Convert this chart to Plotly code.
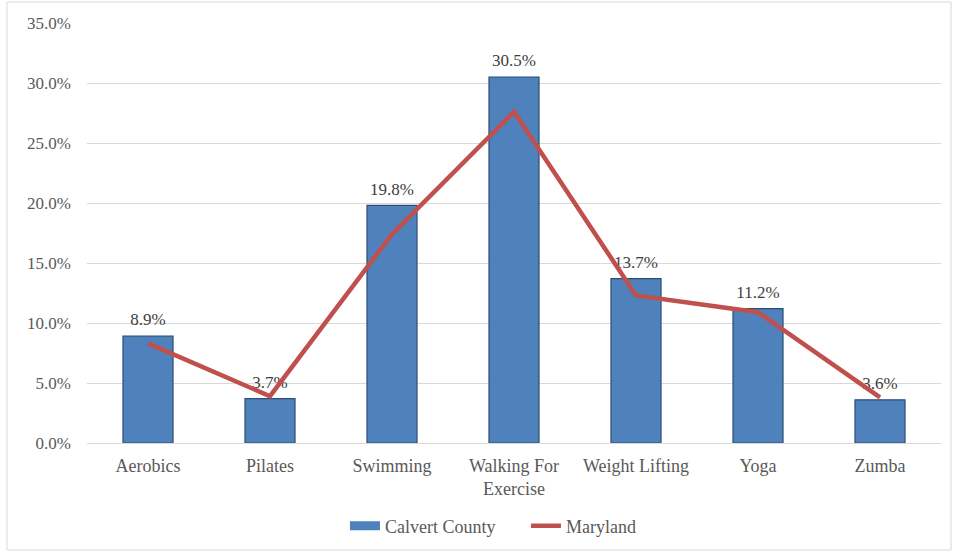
import plotly.graph_objects as go

# Share of residents taking part in each activity
activities = ["Aerobics", "Pilates", "Swimming", "Walking For<br>Exercise",
              "Weight Lifting", "Yoga", "Zumba"]
calvert_county = [8.9, 3.7, 19.8, 30.5, 13.7, 11.2, 3.6]
maryland = [8.3, 3.9, 17.4, 27.6, 12.3, 10.9, 3.8]
y_ticks = [0, 5, 10, 15, 20, 25, 30, 35]

FONT = "Liberation Serif"
TEXT_GREY = "#595959"
BAR_BLUE = "#4F81BD"
LINE_RED = "#C0504D"

fig = go.Figure()

# County bars
fig.add_trace(go.Bar(
    x=activities,
    y=calvert_county,
    name="Calvert County",
    width=0.41,
    marker=dict(color=BAR_BLUE, line=dict(color="#2C4D75", width=1.2)),
    showlegend=False,
    hoverinfo="x+y",
))

# Value labels above each bar
fig.add_trace(go.Scatter(
    x=activities,
    y=calvert_county,
    mode="markers+text",
    marker=dict(size=9, opacity=0),
    text=[f"{v:.1f}%" for v in calvert_county],
    textposition="top center",
    textfont=dict(family=FONT, size=17, color="#404040"),
    showlegend=False,
    hoverinfo="skip",
    cliponaxis=False,
))

# Legend entry for the bars, drawn as a wide swatch
fig.add_trace(go.Scatter(
    x=[None], y=[None],
    name="Calvert County",
    mode="lines",
    line=dict(color=BAR_BLUE, width=9),
))

# State line
fig.add_trace(go.Scatter(
    x=activities,
    y=maryland,
    name="Maryland",
    mode="lines",
    line=dict(color=LINE_RED, width=4.5),
))

fig.update_layout(
    width=956,
    height=554,
    margin=dict(l=87, r=15, t=23, b=111, autoexpand=False),
    paper_bgcolor="white",
    plot_bgcolor="white",
    font=dict(family=FONT, size=18, color=TEXT_GREY),
    showlegend=True,
    legend=dict(
        orientation="h",
        x=0.514, xanchor="center",
        y=-0.198, yanchor="middle",
        font=dict(family=FONT, size=18, color=TEXT_GREY),
        itemwidth=30,
        entrywidth=136,
        traceorder="normal",
    ),
    yaxis=dict(
        range=[0, 35],
        tickvals=y_ticks,
        ticktext=[f"{v:.1f}%" for v in y_ticks],
        showgrid=True,
        gridcolor="#D9D9D9",
        gridwidth=1,
        zeroline=True,
        zerolinecolor="#D9D9D9",
        zerolinewidth=1,
        showline=False,
        ticks="",
        ticklabelstandoff=15,
        automargin=False,
        tickfont=dict(family=FONT, size=17, color=TEXT_GREY),
    ),
    xaxis=dict(
        showgrid=False,
        showline=False,
        ticks="",
        ticklabelstandoff=10,
        automargin=False,
        tickfont=dict(family=FONT, size=18, color=TEXT_GREY),
    ),
    shapes=[dict(
        type="rect", xref="paper", yref="paper",
        x0=-0.0937, x1=1.0117, y0=-0.2548, y1=1.05,
        line=dict(color="#D9D9D9", width=1),
        fillcolor="rgba(0,0,0,0)",
        layer="below",
    )],
)

fig.write_html("out.html")
